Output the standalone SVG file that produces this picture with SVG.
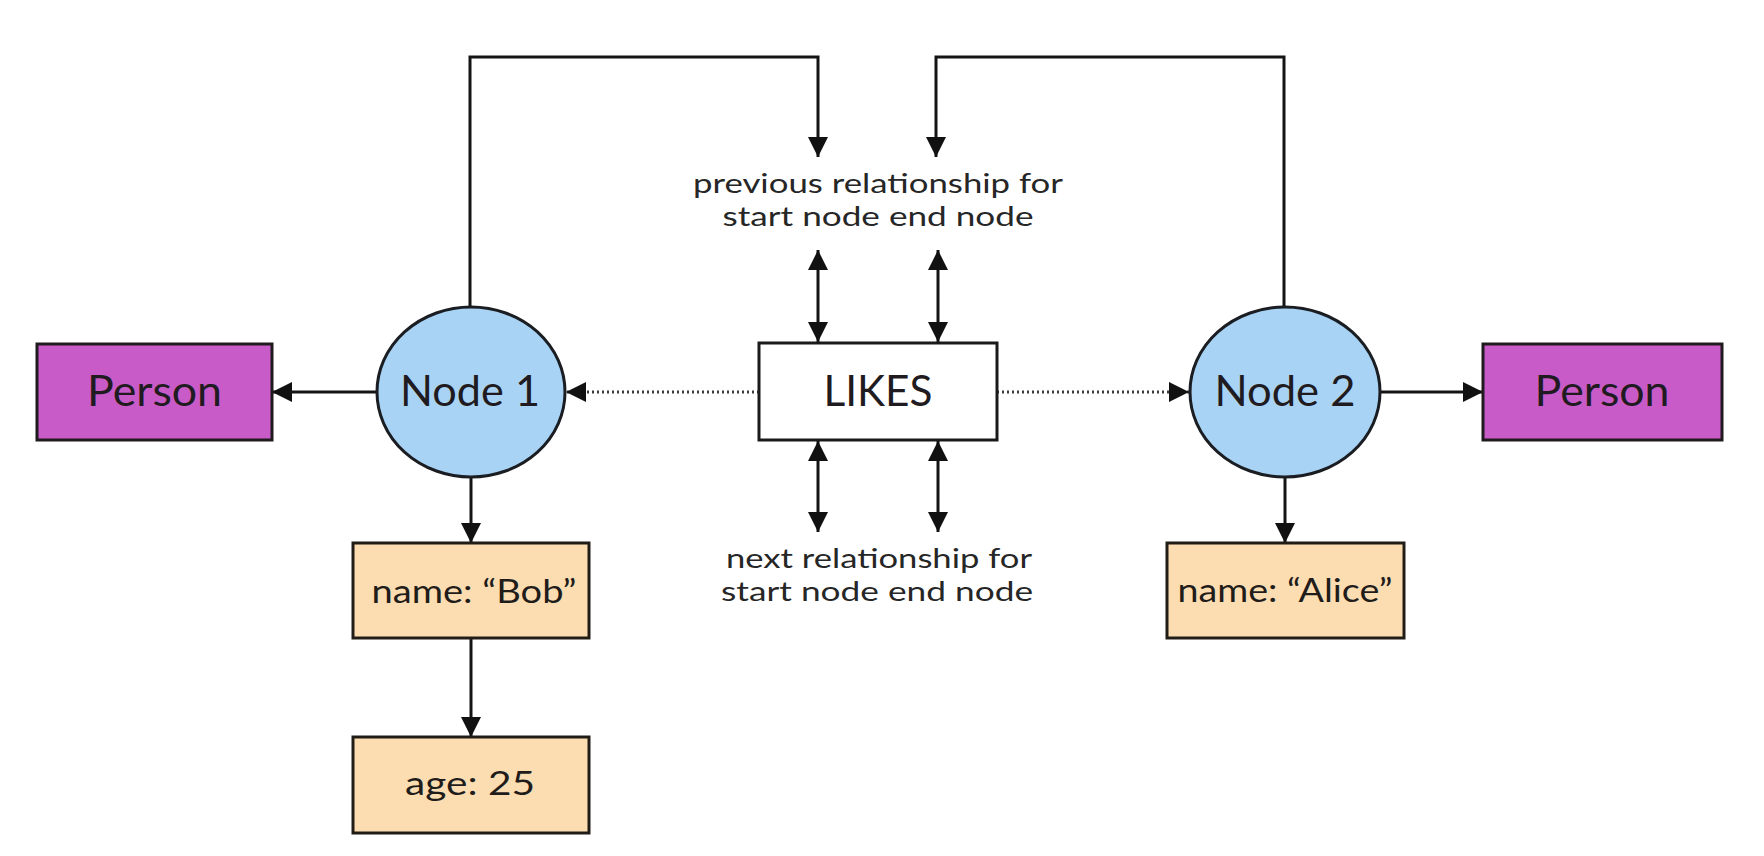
<svg xmlns="http://www.w3.org/2000/svg" width="1764" height="856" viewBox="0 0 1764 856">
<style>
.bg{fill:#ffffff}
.person{fill:#C95BC9;stroke:#1e1a1e;stroke-width:3}
.node{fill:#A9D3F5;stroke:#1a1d22;stroke-width:3}
.rel{fill:#ffffff;stroke:#1a1a1a;stroke-width:3}
.prop{fill:#FCDDB2;stroke:#221c16;stroke-width:3}
.t{font-family:Lato,"Open Sans",sans-serif;text-anchor:middle}
.big{font-size:43px;fill:#1f1b20}
.mid{font-size:32px;fill:#1f1c1a}
.small{font-size:27px;fill:#262626}
.ln{fill:none;stroke:#141414;stroke-width:3}
.dot{fill:none;stroke:#3a3a3a;stroke-width:3;stroke-dasharray:2 3}
</style>
<defs>
<marker id="ah" viewBox="0 0 20 20" refX="20" refY="10" markerWidth="20" markerHeight="20" markerUnits="userSpaceOnUse" orient="auto-start-reverse">
<path d="M0,0 L20,10 L0,20 z" fill="#111"/>
</marker>
</defs>
<rect class="bg" x="0" y="0" width="1764" height="856"/>
<g id="connectors">
<line class="ln" x1="377" y1="392" x2="272" y2="392" marker-end="url(#ah)"/>
<line class="dot" x1="759" y1="392" x2="566" y2="392" marker-end="url(#ah)"/>
<line class="dot" x1="997" y1="392" x2="1189" y2="392" marker-end="url(#ah)"/>
<line class="ln" x1="1381" y1="392" x2="1483" y2="392" marker-end="url(#ah)"/>
<line class="ln" x1="471" y1="477" x2="471" y2="543" marker-end="url(#ah)"/>
<line class="ln" x1="471" y1="638" x2="471" y2="737" marker-end="url(#ah)"/>
<line class="ln" x1="1285" y1="477" x2="1285" y2="543" marker-end="url(#ah)"/>
<path class="ln" d="M470,308 V57 H818 V157" marker-end="url(#ah)"/>
<path class="ln" d="M1284,308 V57 H936 V157" marker-end="url(#ah)"/>
<line class="ln" x1="818" y1="250" x2="818" y2="342" marker-start="url(#ah)" marker-end="url(#ah)"/>
<line class="ln" x1="938" y1="250" x2="938" y2="342" marker-start="url(#ah)" marker-end="url(#ah)"/>
<line class="ln" x1="818" y1="441" x2="818" y2="532" marker-start="url(#ah)" marker-end="url(#ah)"/>
<line class="ln" x1="938" y1="441" x2="938" y2="532" marker-start="url(#ah)" marker-end="url(#ah)"/>
</g>
<g id="person1">
<rect class="person" x="37" y="344" width="235" height="96"/>
<text class="t big" x="154.5" y="406" textLength="135" lengthAdjust="spacingAndGlyphs">Person</text>
</g>
<g id="node1">
<ellipse class="node" cx="471" cy="392" rx="94" ry="85"/>
<text class="t big" x="470" y="406" textLength="140" lengthAdjust="spacingAndGlyphs">Node 1</text>
</g>
<g id="likes">
<rect class="rel" x="759" y="343" width="238" height="97"/>
<text class="t big" x="878" y="406" textLength="109" lengthAdjust="spacingAndGlyphs">LIKES</text>
</g>
<g id="node2">
<ellipse class="node" cx="1285" cy="392" rx="95" ry="85"/>
<text class="t big" x="1285" y="406" textLength="141" lengthAdjust="spacingAndGlyphs">Node 2</text>
</g>
<g id="person2">
<rect class="person" x="1483" y="344" width="239" height="96"/>
<text class="t big" x="1602" y="406" textLength="135" lengthAdjust="spacingAndGlyphs">Person</text>
</g>
<g id="bob">
<rect class="prop" x="353" y="543" width="236" height="95"/>
<text class="t mid" x="474" y="603" textLength="205" lengthAdjust="spacingAndGlyphs">name: “Bob”</text>
</g>
<g id="age">
<rect class="prop" x="353" y="737" width="236" height="96"/>
<text class="t mid" x="470" y="795" textLength="130" lengthAdjust="spacingAndGlyphs">age: 25</text>
</g>
<g id="alice">
<rect class="prop" x="1167" y="543" width="237" height="95"/>
<text class="t mid" x="1285" y="602" textLength="215" lengthAdjust="spacingAndGlyphs">name: “Alice”</text>
</g>
<g id="prev-label">
<text class="t small" x="878" y="193" textLength="370" lengthAdjust="spacingAndGlyphs">previous relationship for</text>
<text class="t small" x="878" y="226" textLength="311" lengthAdjust="spacingAndGlyphs">start node end node</text>
</g>
<g id="next-label">
<text class="t small" x="879" y="568" textLength="306" lengthAdjust="spacingAndGlyphs">next relationship for</text>
<text class="t small" x="877" y="601" textLength="312" lengthAdjust="spacingAndGlyphs">start node end node</text>
</g>
</svg>
